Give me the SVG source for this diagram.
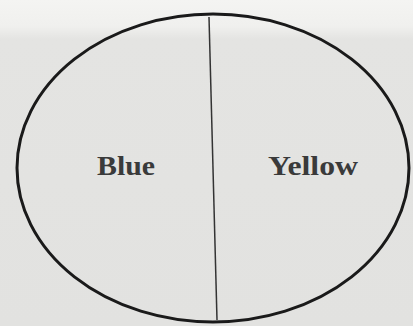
<svg xmlns="http://www.w3.org/2000/svg" width="413" height="326" viewBox="0 0 413 326">
<defs>
<linearGradient id="bg" x1="0" y1="0" x2="0" y2="1">
<stop offset="0" stop-color="#f4f4f2"/>
<stop offset="0.08" stop-color="#f0f0ee"/>
<stop offset="0.12" stop-color="#e4e4e2"/>
<stop offset="1" stop-color="#e2e2e0"/>
</linearGradient>
</defs>
<style>
.lbl{font-family:"Liberation Serif",serif;font-size:27px;font-weight:bold;fill:#3a3a3a}
</style>
<rect width="413" height="326" fill="url(#bg)"/>
<g id="ellipse">
<ellipse cx="213" cy="168" rx="196" ry="154" fill="none" stroke="#1a1a1a" stroke-width="3"/>
</g>
<g id="connectors">
<line x1="209" y1="17" x2="217" y2="320" stroke="#333" stroke-width="1.5"/>
</g>
<g id="blue"><text class="lbl" x="97" y="175" textLength="58" lengthAdjust="spacingAndGlyphs">Blue</text></g>
<g id="yellow"><text class="lbl" x="268" y="175" textLength="90" lengthAdjust="spacingAndGlyphs">Yellow</text></g>
</svg>
